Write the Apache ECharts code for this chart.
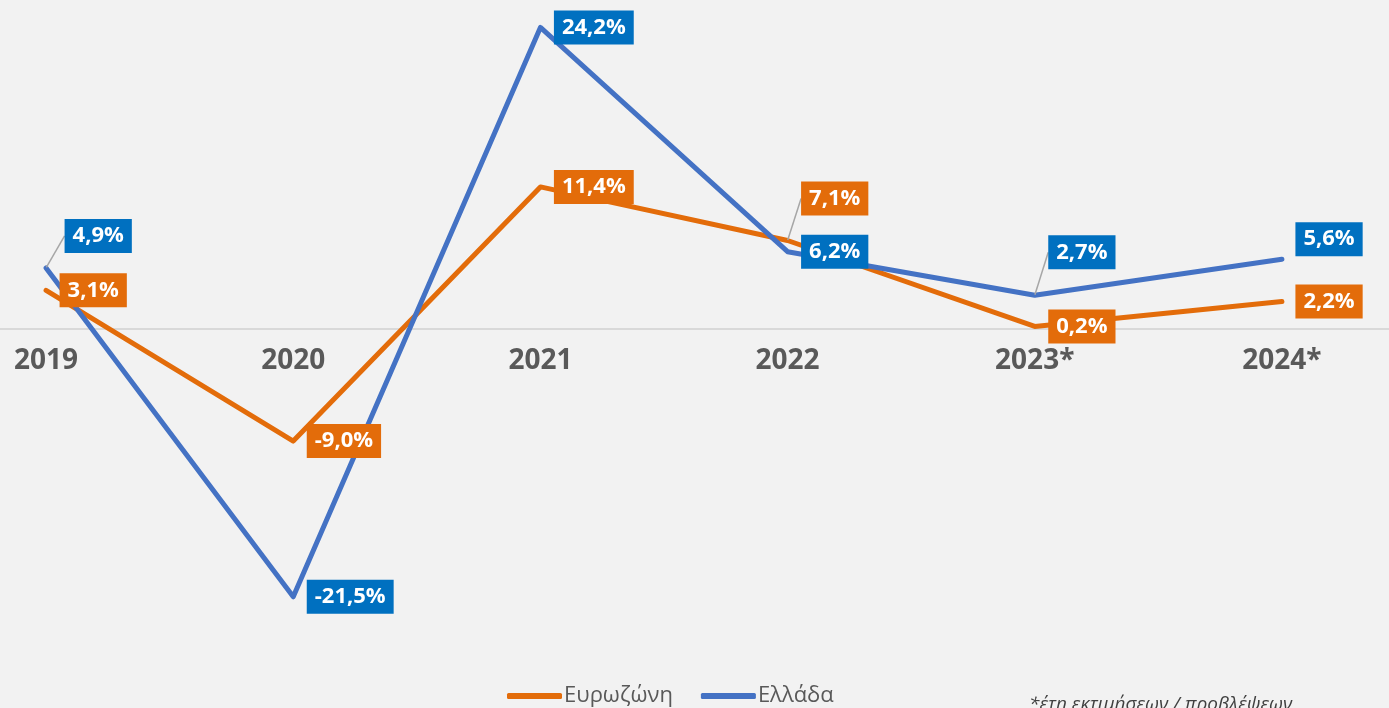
<!DOCTYPE html>
<html>
<head>
<meta charset="utf-8">
<script src="https://cdn.jsdelivr.net/npm/echarts@6/dist/echarts.min.js"></script>
<style>
  html, body { margin: 0; padding: 0; background: #F2F2F2; }
  #chart { width: 1389px; height: 708px; }
</style>
</head>
<body>
<div id="chart"></div>
<script>
// δεδομένα
var years = ['2019', '2020', '2021', '2022', '2023*', '2024*'];
var eurozone = [3.1, -9.0, 11.4, 7.1, 0.2, 2.2];
var greece = [4.9, -21.5, 24.2, 6.2, 2.7, 5.6];

// μετατόπιση ετικετών (px) για να μην πέφτουν η μία πάνω στην άλλη
var euroLabelDy = [0, 0, 0, -42, 0, 0];
var greeceLabelDy = [-32, 0, 0, 0, -43, -20];
var greeceLabelDx = [5, 0, 0, 0, 0, 0];
var euroLeader = [false, false, false, true, false, false];
var greeceLeader = [true, false, false, false, true, false];

var ORANGE = '#E36C0A';
var BLUE_LINE = '#4472C4';
var BLUE_BOX = '#0070C0';

function fmt(v) {
  return v.toFixed(1).replace('.', ',') + '%';
}

function buildData(values, leader) {
  return values.map(function (v, i) {
    return {
      value: v,
      labelLine: { show: leader[i] }
    };
  });
}

function labelStyle(bg) {
  return {
    show: true,
    position: 'right',
    distance: 13,
    formatter: function (p) { return fmt(p.value); },
    color: '#fff',
    fontFamily: 'Open Sans',
    fontWeight: 'bold',
    fontSize: 22,
    backgroundColor: bg,
    padding: [6, 8, 6, 8]
  };
}

var chart = echarts.init(document.getElementById('chart'));

var option = {
  backgroundColor: '#F2F2F2',
  animation: false,
  title: {
    text: '*έτη εκτιμήσεων / προβλέψεων',
    left: 1029,
    top: 695,
    padding: 0,
    textStyle: {
      color: '#404040',
      fontFamily: 'Open Sans',
      fontStyle: 'italic',
      fontWeight: 'normal',
      fontSize: 19
    }
  },
  legend: {
    data: ['Ευρωζώνη', 'Ελλάδα'],
    left: 502,
    top: 680,
    itemWidth: 55,
    itemHeight: 6,
    itemGap: 28,
    icon: 'roundRect',
    textStyle: {
      color: '#595959',
      fontFamily: 'Open Sans',
      fontSize: 22,
      padding: [0, 0, 0, -3]
    }
  },
  grid: {
    left: -77.5,
    right: -16.5,
    top: 5,
    bottom: 80,
    outerBoundsMode: 'none',
    containLabel: false
  },
  xAxis: {
    type: 'category',
    data: years,
    boundaryGap: true,
    // άξονας στο μηδέν (5 + 26/50 * 623 = 329)
    offset: -299,
    axisLine: { onZero: false, lineStyle: { color: '#D9D9D9', width: 2 } },
    axisTick: { show: false },
    axisLabel: {
      margin: 18,
      color: '#595959',
      fontFamily: 'Open Sans',
      fontWeight: 'bold',
      fontSize: 28
    }
  },
  yAxis: {
    type: 'value',
    min: -24,
    max: 26,
    show: false,
    splitLine: { show: false }
  },
  series: [
    {
      name: 'Ευρωζώνη',
      type: 'line',
      data: buildData(eurozone, euroLeader),
      symbol: 'circle',
      symbolSize: 1,
      color: ORANGE,
      lineStyle: { width: 5, color: ORANGE, cap: 'round', join: 'round' },
      label: labelStyle(ORANGE),
      labelLine: { show: false, lineStyle: { color: '#A6A6A6', width: 1.5 } },
      labelLayout: function (p) { return { dy: euroLabelDy[p.dataIndex] }; }
    },
    {
      name: 'Ελλάδα',
      type: 'line',
      data: buildData(greece, greeceLeader),
      symbol: 'circle',
      symbolSize: 1,
      color: BLUE_LINE,
      lineStyle: { width: 5, color: BLUE_LINE, cap: 'round', join: 'round' },
      label: labelStyle(BLUE_BOX),
      labelLine: { show: false, lineStyle: { color: '#A6A6A6', width: 1.5 } },
      labelLayout: function (p) {
        return { dx: greeceLabelDx[p.dataIndex], dy: greeceLabelDy[p.dataIndex] };
      }
    }
  ]
};

chart.setOption(option);
</script>
</body>
</html>
